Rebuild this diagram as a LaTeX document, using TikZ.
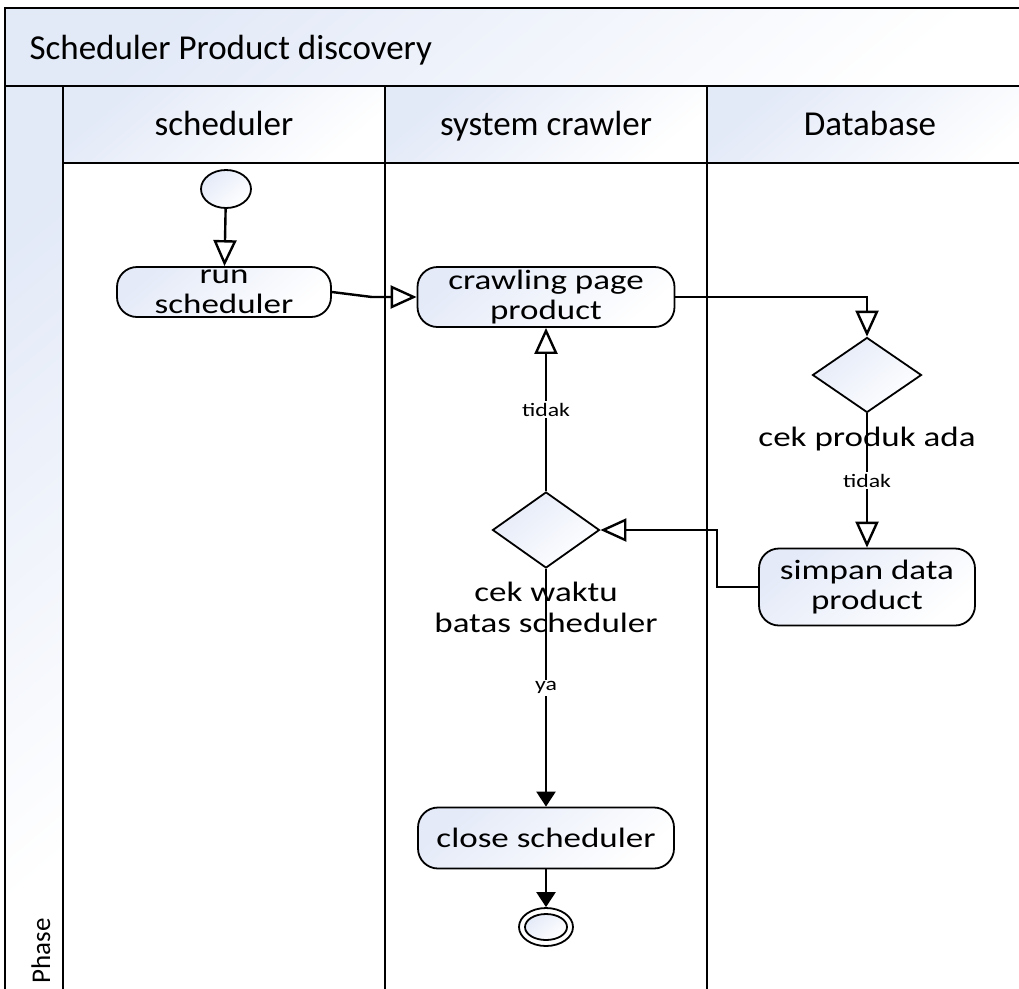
\documentclass[tikz,border=0pt]{standalone}
\usepackage{fontspec}
\setmainfont{Carlito}
\newfontfamily\nodefont[FakeStretch=1.25]{Carlito}
\usetikzlibrary{arrows.meta,shapes.geometric}
\definecolor{paneblue}{RGB}{226,233,247}
\definecolor{nodeblue}{RGB}{228,234,248}
\tikzset{
  pane/.style={draw=black, line width=2pt, top color=paneblue, bottom color=white, shading angle=40},
  lane/.style={draw=black, line width=2pt},
  action/.style={draw=black, line width=1.8pt, rounded corners=20pt, top color=nodeblue, bottom color=white,
    shading angle=40, align=center, inner sep=0pt, font=\nodefont\fontsize{28}{30}\selectfont},
  decision/.style={diamond, draw=black, line width=1.8pt, top color=nodeblue, bottom color=white,
    shading angle=40, inner sep=0pt},
  startnode/.style={ellipse, draw=black, line width=1.8pt, top color=nodeblue, bottom color=white,
    shading angle=40, minimum width=50pt, minimum height=38pt, inner sep=0pt},
  flow/.style={line width=2.4pt, -{Triangle[open, length=26pt, width=23pt, fill=white]}},
  solidflow/.style={line width=2.4pt, -{Triangle[length=15pt, width=19pt]}},
  guard/.style={fill=white, inner sep=2pt, font=\nodefont\fontsize{19}{21}\selectfont},
  condtext/.style={align=center, font=\nodefont\fontsize{28}{31}\selectfont},
  headtext/.style={font=\fontsize{35}{40}\selectfont, anchor=base}
}
\begin{document}
\begin{tikzpicture}[x=1pt, y=-1pt]
\useasboundingbox (0,0) rectangle (1019,988);
\clip (0,0) rectangle (1019,988);

% pool title band and phase column
\draw[pane] (5,8) rectangle (1045,86);
\node[headtext, anchor=base west] (title) at (26,59) {Scheduler Product discovery};
\draw[pane] (5,86) rectangle (63,1000);
\node[font=\fontsize{27}{30}\selectfont, rotate=90, anchor=base west] (phase) at (50,987) {Phase};

% swimlane headers
\draw[pane] (63,86) rectangle (385,163);
\draw[pane] (385,86) rectangle (707,163);
\draw[pane] (707,86) rectangle (1045,163);
\node[headtext] (h1) at (224,135) {scheduler};
\node[headtext] (h2) at (546,135) {system crawler};
\node[headtext] (h3) at (870,135) {Database};

% swimlane bodies
\draw[lane] (63,163) rectangle (385,1000);
\draw[lane] (385,163) rectangle (707,1000);
\draw[lane] (707,163) rectangle (1045,1000);

% activity nodes
\node[startnode] (start) at (226,189) {};
\node[action, minimum width=214pt, minimum height=50pt] (run) at (224,292) {run\\scheduler};
\node[action, minimum width=257pt, minimum height=60pt] (crawl) at (546,297) {crawling page\\product};
\node[decision, minimum width=109pt, minimum height=75pt] (cekproduk) at (867,375) {};
\node[action, minimum width=216pt, minimum height=77pt] (simpan) at (867,587) {simpan data\\product};
\node[decision, minimum width=107pt, minimum height=76pt] (cekwaktu) at (546,530) {};
\node[action, minimum width=256pt, minimum height=61pt] (close) at (546,838) {close scheduler};
\node[ellipse, draw=black, line width=1.8pt, fill=white, minimum width=54pt, minimum height=38pt, inner sep=0pt] (finish) at (546,927) {};
\node[ellipse, draw=black, line width=1.8pt, top color=nodeblue, bottom color=white, shading angle=40,
  minimum width=42pt, minimum height=26pt, inner sep=0pt] (finishcore) at (546,927) {};

% decision captions
\node[condtext, anchor=base] (cap1) at (867,446) {cek produk ada};
\node[condtext, anchor=base] (cap2) at (546,601) {cek waktu};
\node[condtext, anchor=base] (cap3) at (546,632) {batas scheduler};

% control flow
\draw[flow] (start) -- (run);
\draw[flow] (run.east) -- ++(40,5) -- (crawl.west);
\draw[flow] (crawl.east) -| (cekproduk.north);
\draw[flow] (cekproduk.south) -- node[guard] {tidak} (simpan.north);
\draw[flow] (simpan.west) -- ++(-41,0) |- (cekwaktu.east);
\draw[flow] (cekwaktu.north) -- node[guard] {tidak} (crawl.south);
\draw[solidflow] (cekwaktu.south) -- node[guard] {ya} (close.north);
\draw[solidflow] (close.south) -- (finish.north);
\end{tikzpicture}
\end{document}
